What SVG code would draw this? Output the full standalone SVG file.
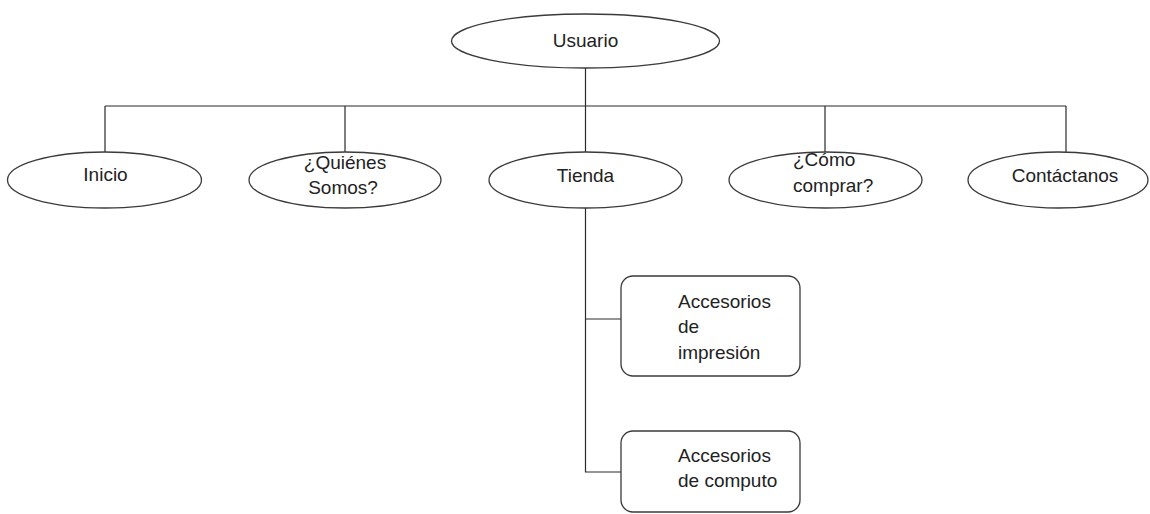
<svg xmlns="http://www.w3.org/2000/svg" width="1150" height="514" viewBox="0 0 1150 514">
<style>
.shape{fill:#fff;stroke:#3a3a3a;stroke-width:1.3}
.line{fill:none;stroke:#2a2a2a;stroke-width:1.2}
text{font-family:"Liberation Sans",Arial,sans-serif;font-size:19px;fill:#222}
.c{text-anchor:middle}
</style>
<rect width="1150" height="514" fill="#fff"/>
<g id="connectors">
<path class="line" d="M585.5,68 V106 M105,106 H1066 M105,106 V152 M345,106 V152 M585.5,106 V152 M825,106 V152 M1066,106 V152"/>
<path class="line" d="M585.5,208 V472 H621 M585.5,319 H621"/>
</g>
<g id="usuario"><ellipse class="shape" cx="585.5" cy="41" rx="134" ry="27"/><text class="c" x="585.5" y="47">Usuario</text></g>
<g id="inicio"><ellipse class="shape" cx="104.5" cy="180" rx="97" ry="28"/><text class="c" x="105.5" y="181">Inicio</text></g>
<g id="quienes"><ellipse class="shape" cx="345" cy="180" rx="96" ry="28"/><text class="c" x="345" y="169">¿Quiénes</text><text class="c" x="343" y="194">Somos?</text></g>
<g id="tienda"><ellipse class="shape" cx="585.5" cy="180" rx="96.5" ry="28"/><text class="c" x="585.5" y="182">Tienda</text></g>
<g id="como"><ellipse class="shape" cx="825.5" cy="180" rx="96.5" ry="28"/><text x="793" y="166">¿Cómo</text><text x="793" y="192">comprar?</text></g>
<g id="contactanos"><ellipse class="shape" cx="1058" cy="180" rx="90" ry="28"/><text class="c" x="1065" y="182">Contáctanos</text></g>
<g id="impresion"><rect class="shape" x="621" y="276" width="179" height="100" rx="12"/><text x="678" y="308">Accesorios</text><text x="678" y="333">de</text><text x="678" y="359">impresión</text></g>
<g id="computo"><rect class="shape" x="621" y="431" width="179" height="81" rx="12"/><text x="678" y="462">Accesorios</text><text x="678" y="487">de computo</text></g>
</svg>
